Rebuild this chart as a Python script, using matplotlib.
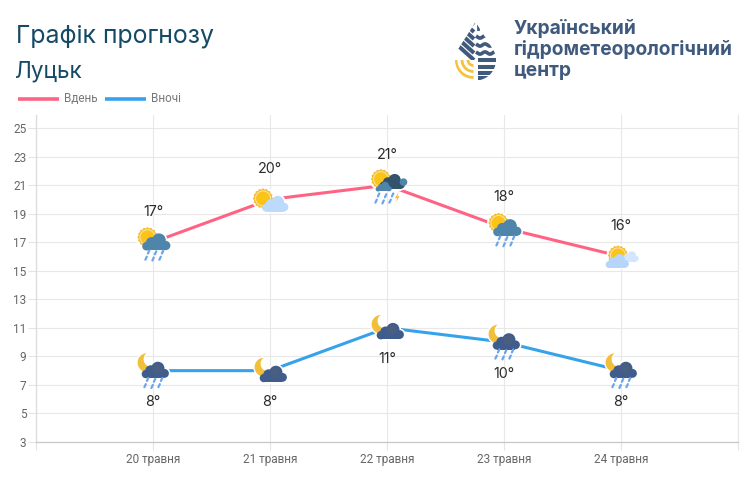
import numpy as np
import matplotlib
matplotlib.use("Agg")
import matplotlib.pyplot as plt
from matplotlib.patches import Circle, Polygon, PathPatch, Wedge, Rectangle
from matplotlib.path import Path

dates = ["", "20 травня", "21 травня", "22 травня", "23 травня", "24 травня", ""]
day_temps = [17, 20, 21, 18, 16]
night_temps = [8, 8, 11, 10, 8]
day_icons = ["rain", "light", "storm", "rain", "lightsun"]
night_icons = ["rain", "plain", "plain", "rain", "rain"]
y_ticks = list(range(3, 27, 2))
series_names = ["Вдень", "Вночі"]
title_text = "Графік прогнозу"
city_text = "Луцьк"
logo_lines = ["Український", "гідрометеорологічний", "центр"]

W, H = 750, 500
PINK, BLUE = "#ff6384", "#36a2eb"
fig = plt.figure(figsize=(7.5, 5), dpi=100, facecolor="white")
ax = fig.add_axes([36 / W, 1 - 442 / H, (738 - 36) / W, (442 - 115) / H])
ax.set_xlim(0, 6)
ax.set_ylim(3, 3 + (442 - 115) / 14.27)
xs = np.arange(1, 6)
ax.plot(xs, day_temps, color=PINK, lw=2.2, solid_capstyle="butt", zorder=3)
ax.plot(xs, night_temps, color=BLUE, lw=2.2, solid_capstyle="butt", zorder=3)
ax.set_xticks(range(7))
ax.set_xticklabels(dates, family="Roboto", fontsize=8.5, color="#666666")
ax.set_yticks(y_ticks)
ax.set_yticklabels([str(v) for v in y_ticks], family="Roboto", fontsize=8.5, color="#666666")
ax.grid(True, color="#e8e8e8", lw=0.8)
ax.set_axisbelow(True)
ax.tick_params(axis="x", length=6, width=0.8, color="#e4e4e4", pad=2)
ax.tick_params(axis="y", length=6, width=0.8, color="#e4e4e4", pad=1)
ax.spines["top"].set_visible(False)
ax.spines["right"].set_color("#e8e8e8")
ax.spines["left"].set_color("#dcdcdc")
ax.spines["bottom"].set_color("#c8c8c8")
for s in ["left", "bottom", "right"]:
    ax.spines[s].set_linewidth(0.9)

# overlay in pixel coordinates for icons and logo
ov = fig.add_axes([0, 0, 1, 1], zorder=5)
ov.set_xlim(0, W)
ov.set_ylim(H, 0)
ov.axis("off")
ov.patch.set_alpha(0)


def to_px(x, y):
    dx, dy = ax.transData.transform((x, y))
    return dx, H - dy


def cloud(cx, cy, w, color, halo=True):
    k = w / 28.0
    parts = [(-9.5, 2.5, 4.3), (-4.5, -1, 5.6), (3, -3.5, 6.8), (9.8, 1.8, 4.6)]
    base = Rectangle((cx - 9.5 * k, cy - 1 * k), 19.3 * k, 7.7 * k, fc=color, ec="none", zorder=7)
    if halo:
        for dx, dy, r in parts:
            ov.add_patch(Circle((cx + dx * k, cy + dy * k), r * k + 1.6, fc="white", ec="none", zorder=6))
        ov.add_patch(Rectangle((cx - 9.5 * k, cy - 1 * k), 19.3 * k, 9.3 * k, fc="white", ec="none", zorder=6))
    ov.add_patch(base)
    for dx, dy, r in parts:
        ov.add_patch(Circle((cx + dx * k, cy + dy * k), r * k, fc=color, ec="none", zorder=7))


def sun(cx, cy, r=9):
    ang = np.linspace(0, 2 * np.pi, 33)[:-1]
    rad = np.where(np.arange(32) % 2 == 0, r + 1.2, r)
    ov.add_patch(Circle((cx, cy), r + 2.5, fc="white", ec="none", zorder=6))
    ov.add_patch(Polygon(np.c_[cx + rad * np.cos(ang), cy + rad * np.sin(ang)], fc="#f3bd36", ec="none", zorder=6.5))
    ov.add_patch(Circle((cx, cy), r - 1, fc="#f9e6a8", ec="none", zorder=6.6))
    ov.add_patch(Circle((cx, cy), r - 2, fc="#fcc419", ec="none", zorder=6.7))


def moon(cx, cy, r1=9.4, r2=7.6, off=(4.2, -3.4)):
    D = np.hypot(*off)
    d = np.arctan2(off[1], off[0])
    alpha = np.arccos((D ** 2 + r1 ** 2 - r2 ** 2) / (2 * D * r1))
    gamma = np.arccos((r1 * np.cos(alpha) - D) / r2)
    a1 = np.linspace(d + alpha, d + 2 * np.pi - alpha, 40)
    a2 = np.linspace(d + 2 * np.pi - gamma, d + gamma, 40)
    pts = np.r_[np.c_[cx + r1 * np.cos(a1), cy + r1 * np.sin(a1)],
                np.c_[cx + off[0] + r2 * np.cos(a2), cy + off[1] + r2 * np.sin(a2)]]
    ov.add_patch(Polygon(pts, fc="white", ec="white", lw=2, zorder=6))
    ov.add_patch(Polygon(pts, fc="#f2bf3a", ec="none", zorder=6.5))


def rain(cx, cy, color="#6aa5ee", n=3):
    for i in range(n):
        for j, dy in enumerate((-3.2, 3)):
            x = cx - 7.5 + i * 7 + (0 if j == 0 else -2.5)
            y = cy + dy + (0 if i % 2 == 0 else 0.8)
            ov.plot([x + 0.8, x - 0.6], [y - 1.5, y + 1.5], color=color, lw=1.6, zorder=8, solid_capstyle="round")


def bolt(cx, cy):
    pts = np.array([[1.5, -5], [-2, 1], [0, 1], [-1, 5], [2.5, -1], [0.5, -1]]) + (cx, cy)
    ov.add_patch(Polygon(pts, fc="#f3bd36", ec="none", zorder=8))


def day_icon(kind, px, py):
    if kind == "rain":
        sun(px - 5.5, py - 5)
        cloud(px + 3, py + 1.5, 28, "#4f84ab")
        rain(px + 3, py + 13)
    elif kind == "light":
        sun(px - 7, py - 1)
        cloud(px + 5, py + 6, 26, "#bcdafc")
    elif kind == "lightsun":
        sun(px - 3, py - 1)
        cloud(px + 9, py + 1, 17, "#d4e6fb", halo=False)
        cloud(px - 4, py + 6, 23, "#b6d5fb")
    else:
        sun(px - 6, py - 6)
        cloud(px + 5, py - 2, 25, "#33536d")
        ov.add_patch(Circle((px + 16.5, py - 3), 3.8, fc="#4f84ab", zorder=7))
        cloud(px - 3.5, py + 2.5, 16, "#4f84ab", halo=False)
        rain(px - 1, py + 13)
        bolt(px + 10, py + 12)


def night_icon(kind, px, py):
    if kind == "rain":
        moon(px - 6, py - 8)
        cx, cy = px + 2, py + 1
    else:
        moon(px - 6, py - 3.5)
        cx, cy = px + 3, py + 5
    cloud(cx, cy, 27, "#3f5c8c")
    ov.add_patch(Circle((cx + 2, cy - 3), 4.8, fc="#4a5f80", zorder=7.1))
    if kind == "rain":
        rain(px + 2, py + 12)


for i, x in enumerate(xs):
    p = to_px(x, day_temps[i])
    day_icon(day_icons[i], *p)
    ov.text(p[0], p[1] - 30.5, f"{day_temps[i]}°", ha="center", va="center", family="Inter", fontsize=10.3, color="#2b2b2b", zorder=9)
    q = to_px(x, night_temps[i])
    night_icon(night_icons[i], *q)
    ov.text(q[0], q[1] + 31.5, f"{night_temps[i]}°", ha="center", va="center", family="Inter", fontsize=10.3, color="#2b2b2b", zorder=9)

# titles
ov.text(16, 42, title_text, family="Inter", fontsize=17.9, color="#154a66", va="baseline")
ov.text(15, 77, city_text, family="Inter", fontsize=16.2, color="#154a66", va="baseline")

# legend
for x0, c, name in zip((18, 105), (PINK, BLUE), series_names):
    ov.plot([x0, x0 + 41], [99, 99], color=c, lw=2.6, solid_capstyle="butt")
    ov.text(x0 + 46, 99, name, family="Roboto", fontsize=8.5, color="#777777", va="center")

# logo
LC = "#3f5a7d"
cx_l, cy_l, r_l = 475.5, 60, 20.5
th = np.radians(np.linspace(-32, 212, 80))
body = np.c_[cx_l + r_l * np.cos(th), cy_l + r_l * np.sin(th)]
verts = np.r_[[[cx_l, 22]], body, [[cx_l, 22]]]
clip = PathPatch(Path(verts, closed=True), transform=ov.transData, fc="none", ec="none")
ov.add_patch(clip)
for k in range(7):
    yend = 60 - k * 7.0
    ln, = ov.plot([474 - 30, 474], [yend - 27, yend], color=LC, lw=2.9, solid_capstyle="butt", zorder=2)
    ln.set_clip_path(clip)
ov.add_patch(Wedge((474, 60), 24, 90, 180, fc="white", ec="none", zorder=2.5))
for r in (5.5, 11.5, 17.5):
    w = Wedge((473.5, 60), r + 1.4, 90, 180, width=2.8, fc="#f5c33b", ec="none", zorder=3)
    ov.add_patch(w)
    w.set_clip_path(clip)
for yy in (60, 66.5, 73, 78):
    ln, = ov.plot([477.5, 500], [yy, yy], color=LC, lw=2.9, solid_capstyle="butt")
    ln.set_clip_path(clip)
for yy in (37, 45, 53):
    xv = np.linspace(477.5, 498, 30)
    ln, = ov.plot(xv, yy + 1.1 * np.sin((xv - 477.5) / 20 * 4 * np.pi), color=LC, lw=2.6)
    ln.set_clip_path(clip)
ln, = ov.plot([477.5, 477.5], [22, 29], color=LC, lw=2)
ln.set_clip_path(clip)

for yy, s in zip((34, 55, 76), logo_lines):
    ov.text(514, yy, s, family="Inter", fontsize=13.8, fontweight="bold", color=LC, va="baseline")

fig.savefig("out.png", dpi=100)
